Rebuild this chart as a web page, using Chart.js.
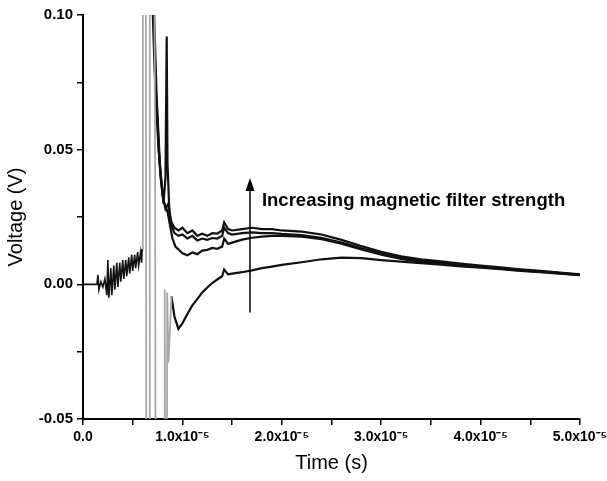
<!DOCTYPE html>
<html>
<head>
<meta charset="utf-8">
<script src="https://cdn.jsdelivr.net/npm/chart.js@4"></script>
<style>
  body { margin: 0; background: #fff; }
</style>
</head>
<body>
<canvas id="voltChart" width="607" height="481"></canvas>
<script>
// time in units of 1 µs (tick labels show it as x10^-5 s), voltage in V

// shared early trace, all four curves lie on top of each other here
const noiseTime = [0, 1.0, 1.4, 1.5, 1.6, 1.8, 2.0, 2.2, 2.4, 2.5, 2.6, 2.8, 2.9, 3.1, 3.2, 3.4, 3.5, 3.7, 3.8, 4.0, 4.1, 4.3, 4.4, 4.6, 4.7, 4.9, 5.0, 5.2, 5.3, 5.5, 5.6, 5.8, 5.9, 5.95];
const noiseVolt = [0, 0, 0, 0.0035, -0.002, 0.001, -0.001, 0.002, -0.004, 0.009, -0.005, 0.006, -0.004, 0.007, -0.002, 0.008, -0.001, 0.008, 0.001, 0.009, 0.002, 0.009, 0.003, 0.010, 0.004, 0.011, 0.005, 0.011, 0.006, 0.012, 0.007, 0.012, 0.008, 0.013];

// saturated discharge spike (grey)
const spikeTime = [5.95, 6.02, 6.3, 6.4, 6.65, 6.72, 7.1, 7.25, 7.35, 8.15, 8.22, 8.3, 8.4, 8.47, 8.6, 8.9];
const spikeVolt = [0.013, 0.2, 0.2, -0.2, -0.2, 0.2, 0.2, 0.05, -0.2, -0.2, -0.002, -0.2, -0.2, -0.003, -0.029, -0.0045];

// start of each curve just after the spike
const headTimeA = [6.85, 7.2, 7.6, 7.9, 8.1, 8.3, 8.42, 8.5, 8.7, 8.9, 9.2];
const headVoltA = [0.12, 0.08, 0.05, 0.038, 0.03, 0.04, 0.092, 0.045, 0.026, 0.023, 0.021];
const headTimeB = [6.95, 7.3, 7.7, 8.0, 8.3, 8.6, 8.9, 9.2];
const headVoltB = [0.12, 0.075, 0.045, 0.033, 0.028, 0.03, 0.022, 0.019];
const headTimeC = [7.0, 7.4, 7.8, 8.1, 8.5, 8.8, 9.0, 9.3];
const headVoltC = [0.12, 0.07, 0.04, 0.031, 0.027, 0.021, 0.017, 0.014];
const headTimeD = [8.9, 9.2];
const headVoltD = [-0.0045, -0.012];

// decay part, common time base
const tailTime = [9.6, 10, 10.5, 11, 11.5, 12, 12.5, 13, 13.5, 14, 14.2, 14.6, 15, 16, 17, 18, 19, 20, 22, 24, 26, 28, 30, 32, 34, 36, 38, 40, 42, 44, 46, 48, 50];
const voltA = [0.020, 0.021, 0.019, 0.020, 0.018, 0.0188, 0.018, 0.019, 0.0188, 0.020, 0.023, 0.0205, 0.020, 0.0205, 0.021, 0.0205, 0.0205, 0.020, 0.0196, 0.0185, 0.0165, 0.0142, 0.0121, 0.0104, 0.0093, 0.0085, 0.0077, 0.0070, 0.0063, 0.0056, 0.0050, 0.0044, 0.0037];
const voltB = [0.018, 0.0185, 0.017, 0.018, 0.0163, 0.017, 0.0165, 0.0172, 0.017, 0.018, 0.021, 0.019, 0.0185, 0.019, 0.0193, 0.019, 0.019, 0.0187, 0.0183, 0.0173, 0.0155, 0.0134, 0.0115, 0.0099, 0.0088, 0.0080, 0.0073, 0.0067, 0.0060, 0.0054, 0.0048, 0.0042, 0.0036];
const voltC = [0.013, 0.0115, 0.0108, 0.0118, 0.0112, 0.0125, 0.0128, 0.0135, 0.0132, 0.014, 0.017, 0.015, 0.0155, 0.0166, 0.0173, 0.0177, 0.018, 0.018, 0.0177, 0.0168, 0.0151, 0.0130, 0.0110, 0.0094, 0.0083, 0.0076, 0.0070, 0.0064, 0.0058, 0.0052, 0.0046, 0.0041, 0.0035];
const voltD = [-0.0165, -0.0145, -0.011, -0.0078, -0.0055, -0.003, -0.0012, 0.0005, 0.0018, 0.003, 0.0055, 0.0037, 0.0040, 0.0045, 0.0052, 0.006, 0.0066, 0.0072, 0.0082, 0.0093, 0.0099, 0.0097, 0.0090, 0.0084, 0.0079, 0.0073, 0.0067, 0.0062, 0.0056, 0.0050, 0.0045, 0.0040, 0.0034];

// annotation arrow + label (in data units)
const arrowTime = 16.8;
const arrowFrom = -0.0105;
const arrowTo = 0.0395;
const labelTime = 18.0;
const labelVolt = 0.0289;
const labelText = "Increasing magnetic filter strength";

function pts(ts, vs) {
  return ts.map((t, i) => ({ x: t, y: vs[i] }));
}
function curve(ht, hv, tv) {
  return pts(ht, hv).concat(pts(tailTime, tv));
}

const fontName = '"Liberation Sans", Arial, sans-serif';

const arrowPlugin = {
  id: "arrowLabel",
  afterDatasetsDraw(chart) {
    const c = chart.ctx;
    const xs = chart.scales.x, ys = chart.scales.y;
    const ax = xs.getPixelForValue(arrowTime);
    const y0 = ys.getPixelForValue(arrowFrom);
    const y1 = ys.getPixelForValue(arrowTo);
    c.save();
    c.strokeStyle = "#000";
    c.fillStyle = "#000";
    c.lineWidth = 1.5;
    c.beginPath();
    c.moveTo(ax, y0);
    c.lineTo(ax, y1 + 10);
    c.stroke();
    c.beginPath();
    c.moveTo(ax, y1);
    c.lineTo(ax - 4.5, y1 + 13);
    c.lineTo(ax + 4.5, y1 + 13);
    c.closePath();
    c.fill();
    c.font = "bold 18.5px " + fontName;
    c.textAlign = "left";
    c.textBaseline = "alphabetic";
    c.fillText(labelText, xs.getPixelForValue(labelTime), ys.getPixelForValue(labelVolt));
    c.restore();
  }
};

const dark = { borderColor: "#111", borderWidth: 2.2, pointRadius: 0, fill: false, tension: 0 };

new Chart(document.getElementById("voltChart"), {
  type: "line",
  data: {
    datasets: [
      Object.assign({ label: "early", data: pts(noiseTime, noiseVolt) }, dark, { borderWidth: 1.6 }),
      { label: "spike", data: pts(spikeTime, spikeVolt), borderColor: "#a8a8a8", borderWidth: 1.8, pointRadius: 0, fill: false, tension: 0 },
      Object.assign({ label: "A", data: curve(headTimeA, headVoltA, voltA) }, dark),
      Object.assign({ label: "B", data: curve(headTimeB, headVoltB, voltB) }, dark),
      Object.assign({ label: "C", data: curve(headTimeC, headVoltC, voltC) }, dark),
      Object.assign({ label: "D", data: curve(headTimeD, headVoltD, voltD) }, dark)
    ]
  },
  options: {
    responsive: false,
    animation: false,
    layout: { padding: { top: 15, right: 27, left: 0, bottom: 0 } },
    plugins: { legend: { display: false }, tooltip: { enabled: false } },
    scales: {
      x: {
        type: "linear",
        min: 0,
        max: 50,
        afterFit(s) { s.height = 62; s.paddingLeft = 0; s.paddingRight = 0; },
        border: { color: "#000", width: 2 },
        grid: { drawOnChartArea: false, drawTicks: true, tickLength: 6, color: "#000", lineWidth: 1.5 },
        ticks: {
          stepSize: 5,
          autoSkip: false,
          maxRotation: 0,
          padding: 4,
          color: "#000",
          font: { family: fontName, size: 14, weight: "bold" },
          callback(v) {
            if (v % 10 !== 0) return "";
            return v === 0 ? "0.0" : (v / 10).toFixed(1) + "x10\u207B\u2075";
          }
        },
        title: {
          display: true,
          text: "Time (s)",
          color: "#000",
          font: { family: fontName, size: 20 },
          padding: { top: 0, bottom: 6 }
        }
      },
      y: {
        min: -0.05,
        max: 0.10,
        afterFit(s) { s.width = 83; },
        border: { color: "#000", width: 2 },
        grid: { drawOnChartArea: false, drawTicks: true, tickLength: 6, color: "#000", lineWidth: 1.5 },
        ticks: {
          stepSize: 0.025,
          autoSkip: false,
          padding: 4,
          color: "#000",
          font: { family: fontName, size: 15, weight: "bold" },
          callback(v) {
            const k = v / 0.05;
            return Math.abs(k - Math.round(k)) < 1e-6 ? v.toFixed(2) : "";
          }
        },
        title: {
          display: true,
          text: "Voltage (V)",
          color: "#000",
          font: { family: fontName, size: 20 },
          padding: { top: 4, bottom: 0 }
        }
      }
    }
  },
  plugins: [arrowPlugin]
});
</script>
</body>
</html>
